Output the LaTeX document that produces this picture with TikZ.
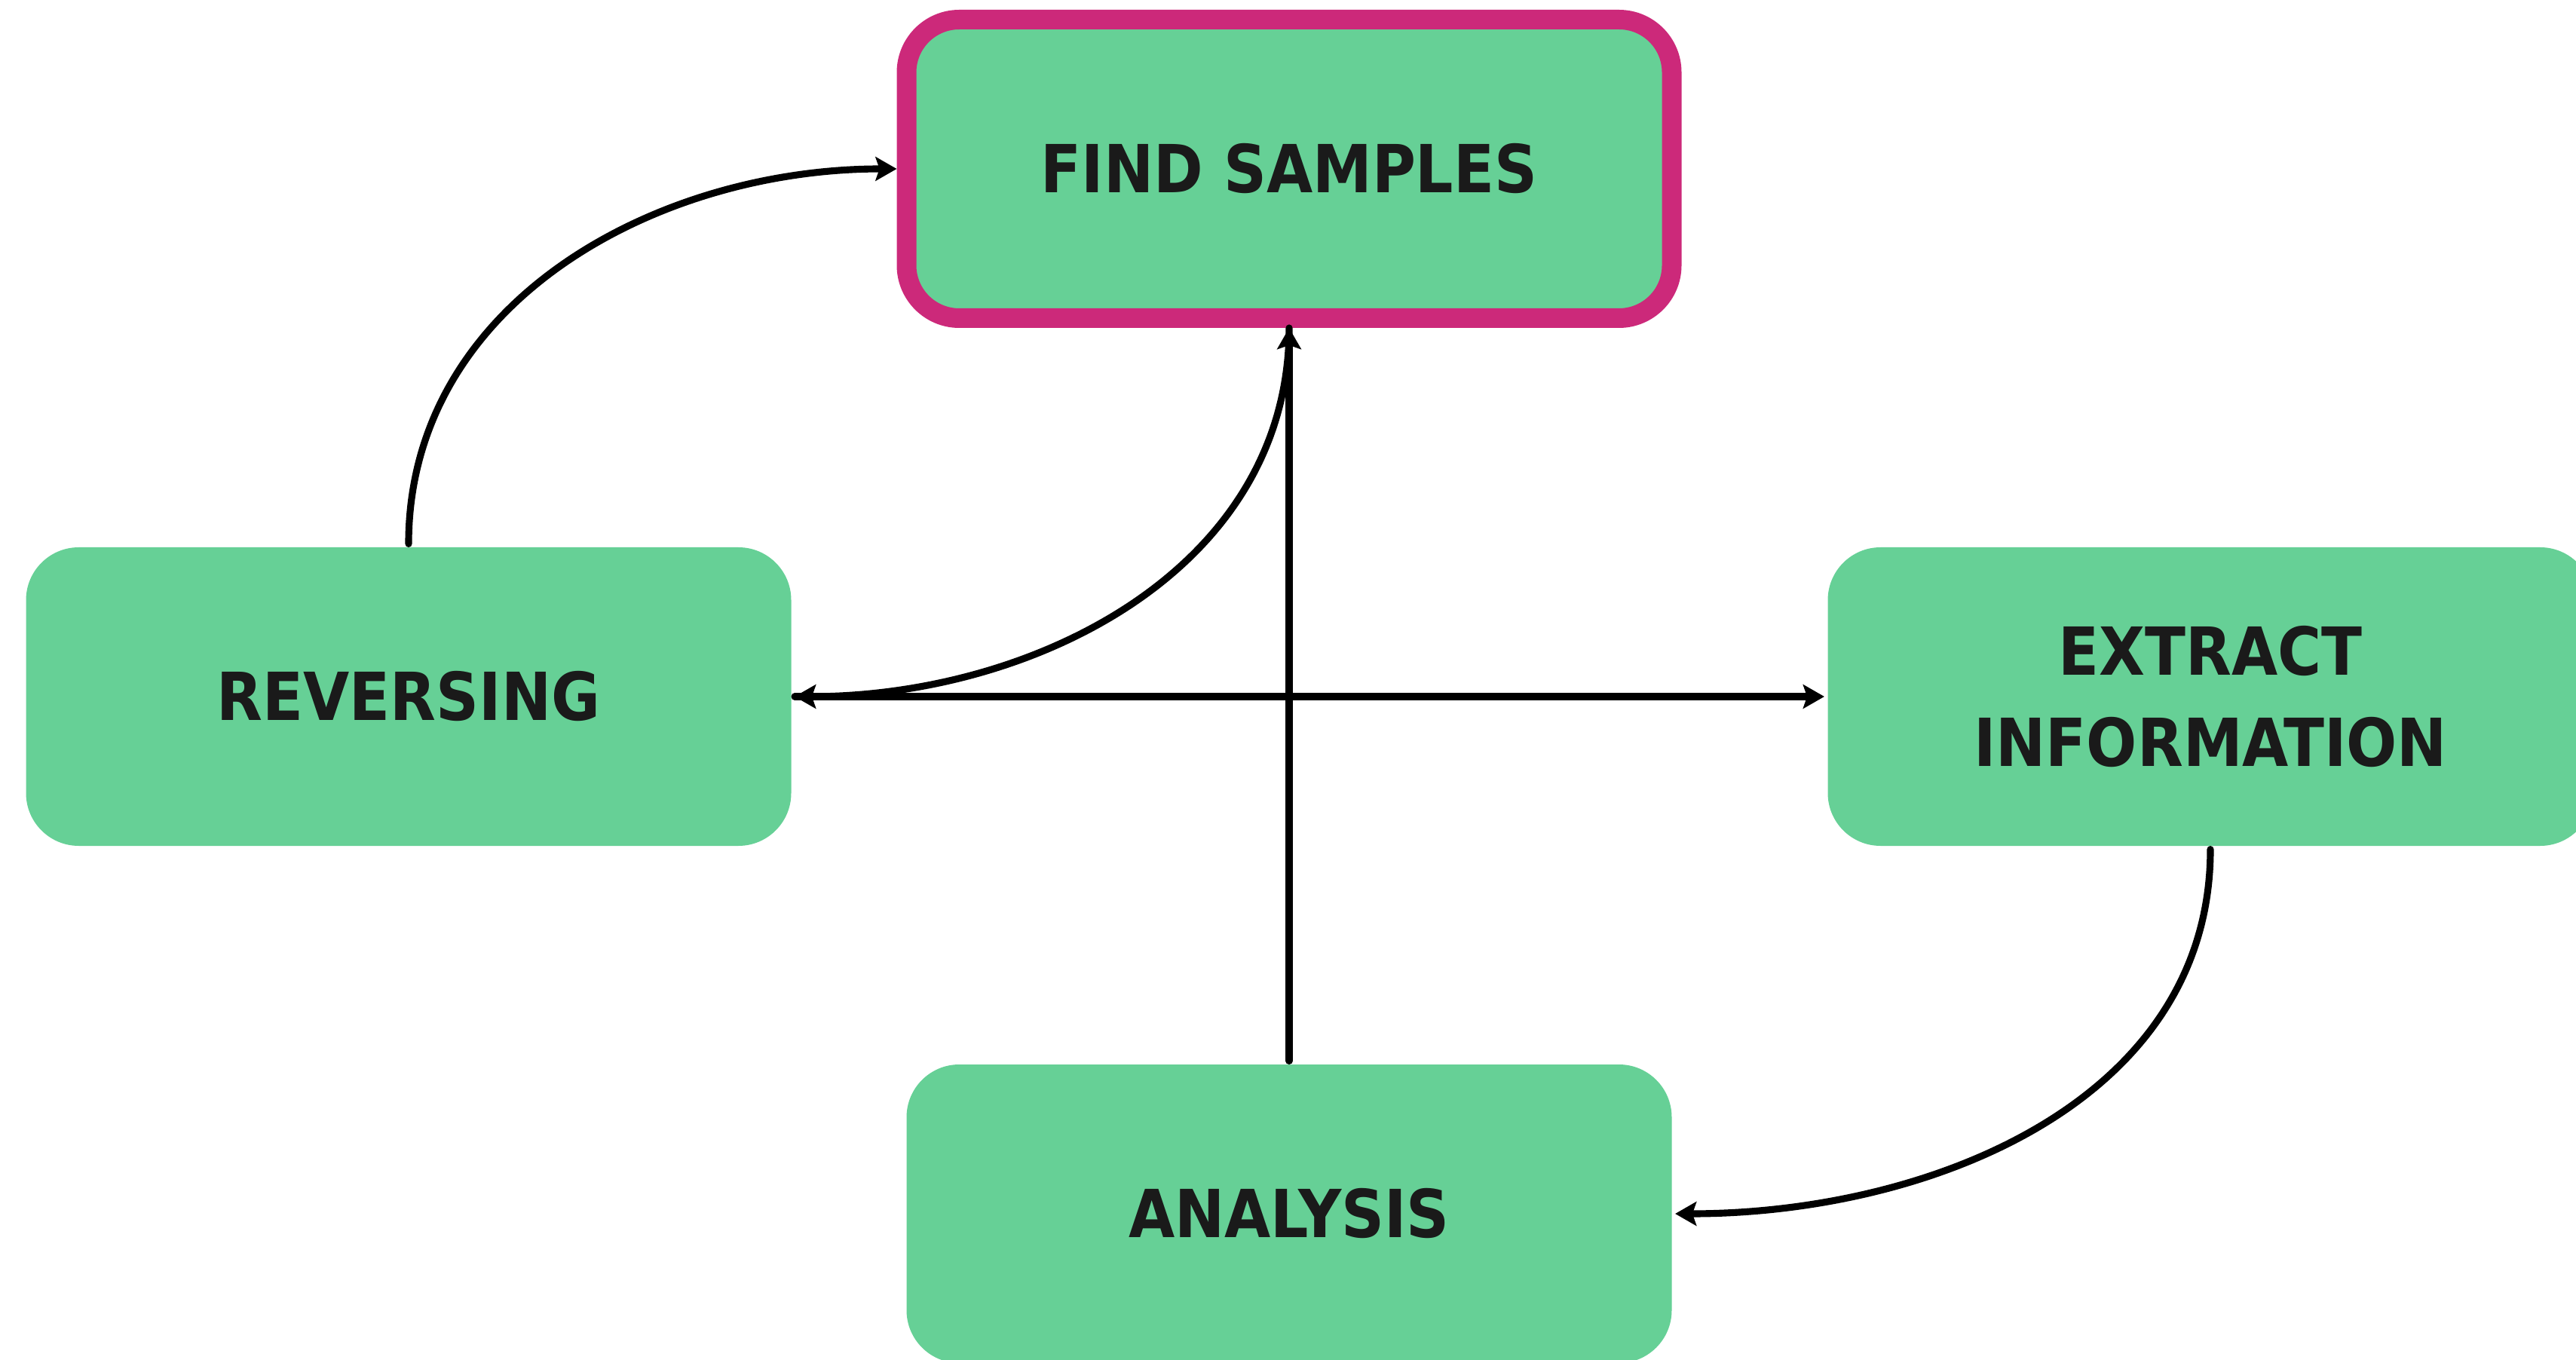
\documentclass[tikz,border=0pt]{standalone}
\usepackage{fontspec}
\setmainfont{DejaVu Sans Condensed}
\usetikzlibrary{arrows.meta}
\definecolor{boxgreen}{RGB}{102,208,150}
\definecolor{ringpink}{RGB}{204,41,122}
\definecolor{inkblack}{RGB}{26,26,26}

\begin{document}
\begin{tikzpicture}[line join=round, line cap=round, >={Stealth[length=8pt,width=9pt,inset=1.5pt]}, line width=2.6pt]
\tikzset{stage/.style={fill=boxgreen, rounded corners=0.7cm, minimum width=10.15cm, minimum height=3.96cm, align=center, text=inkblack, font=\bfseries\fontsize{25}{34.7}\selectfont}}
\useasboundingbox (0,0) rectangle (34.17,18.03);
\node[stage, draw=ringpink, line width=0.26cm] (find) at (17.10,15.79) {FIND SAMPLES};
\node[stage] (rev) at (5.42,8.79) {REVERSING};
\node[stage] (ext) at (29.32,8.79) {EXTRACT\\INFORMATION};
\node[stage] (ana) at (17.10,1.93) {ANALYSIS};
\draw[->] (rev.north) to[out=90,in=180] (find.west);
\draw[->] (find.south) to[out=-90,in=0] (rev.east);
\draw[->] (rev.east)--(ext.west);
\draw[->] (ana.north)--(find.south);
\draw[->] (ext.south) to[out=-90,in=0] (ana.east);
\end{tikzpicture}
\end{document}
